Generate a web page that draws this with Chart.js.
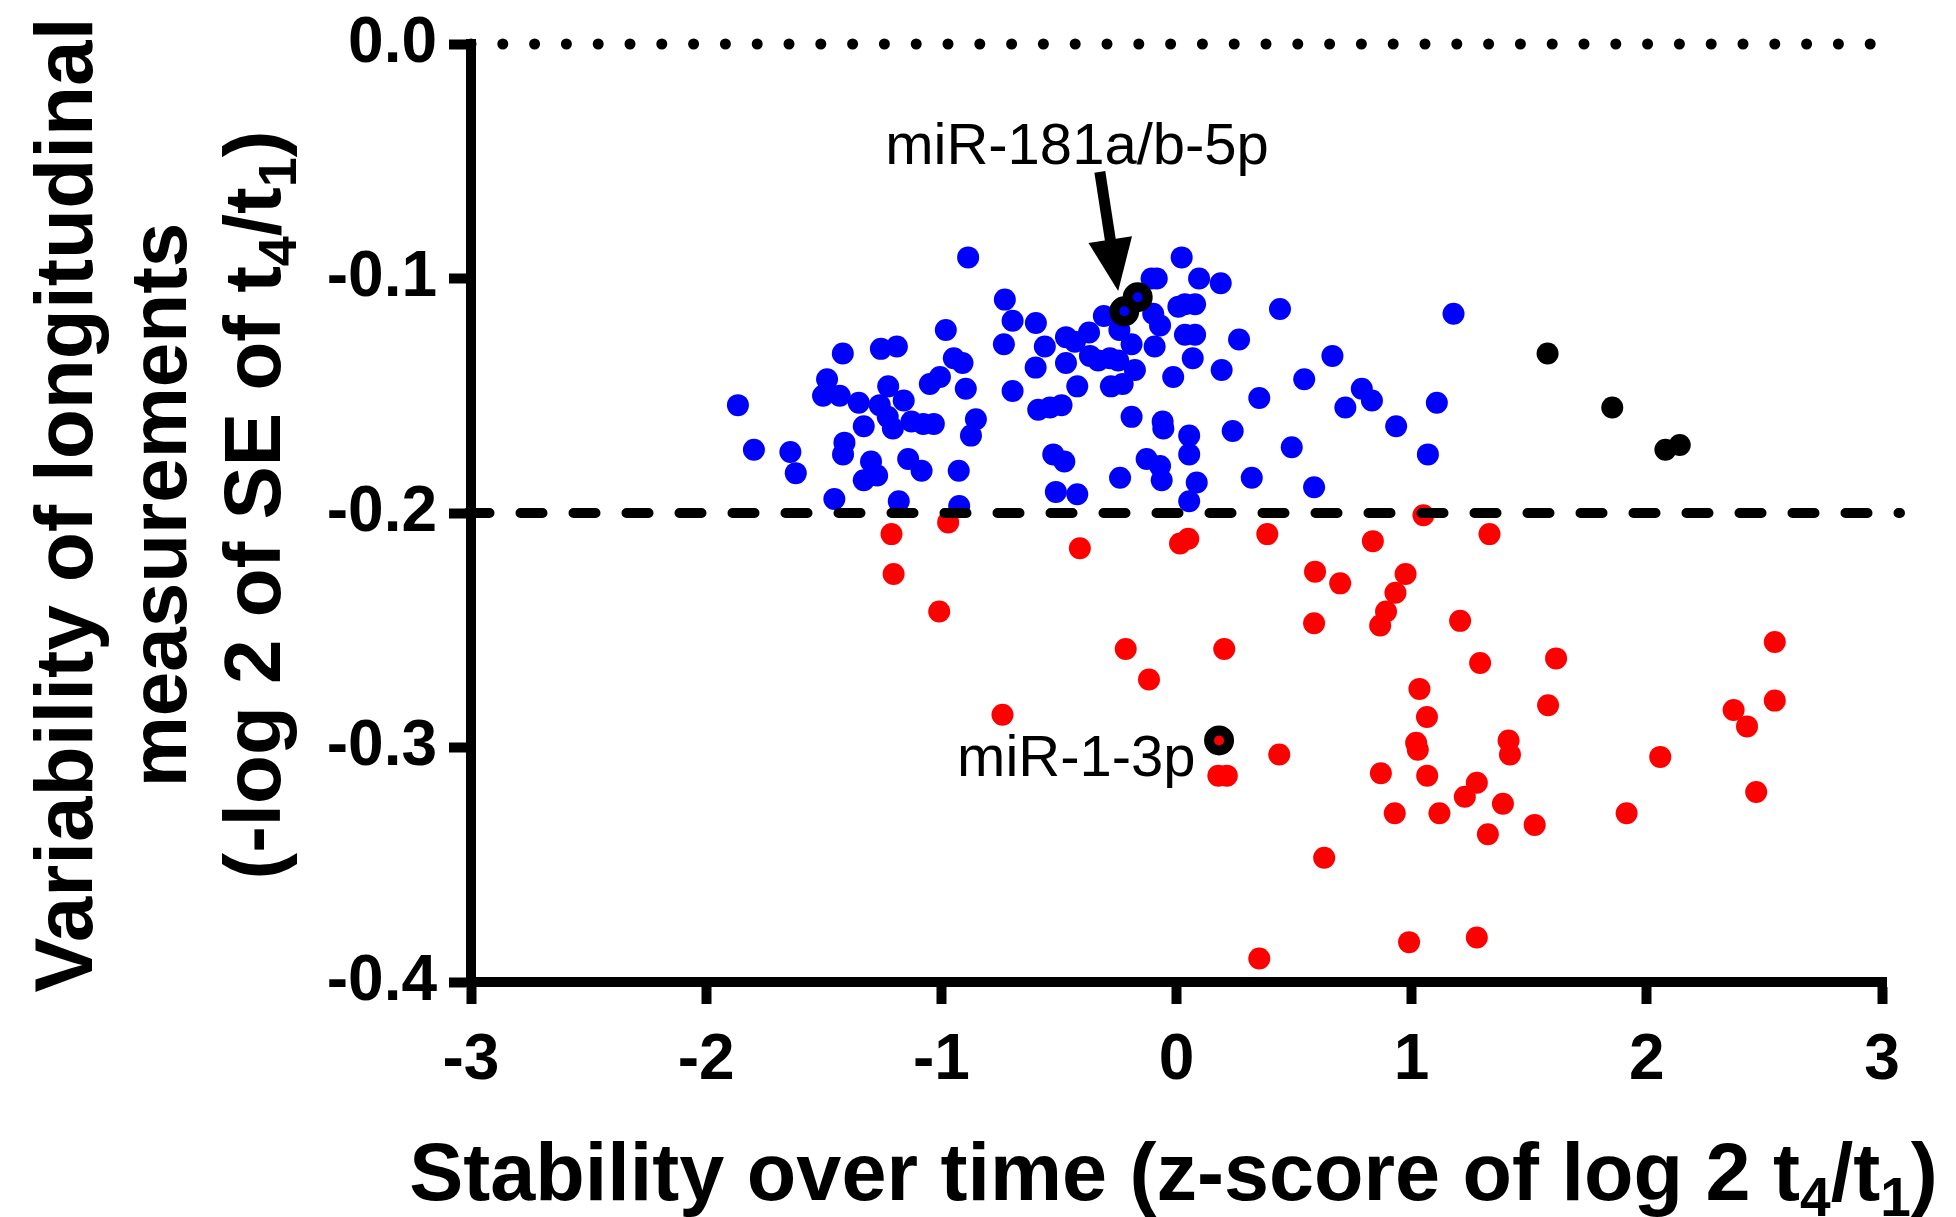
<!DOCTYPE html>
<html>
<head>
<meta charset="utf-8">
<script src="https://cdn.jsdelivr.net/npm/chart.js@4.4.1/dist/chart.umd.min.js"></script>
<style>
  html, body { margin: 0; padding: 0; background: #fff; }
  canvas { display: block; }
</style>
</head>
<body>
<canvas id="scatterChart" width="1956" height="1217" style="width:1956px;height:1217px"></canvas>
<script>
const FONT = "'Liberation Sans', Arial, Helvetica, sans-serif";

// low variability miRNAs (above the -0.2 cut-off)
const stableX = [-1.419, -1.257, -1.189, -1.486, -1.503, -1.432, -1.351, -1.262, -1.228, -1.226,
  -1.206, -1.865, -1.330, -1.412, -1.418, -1.797, -1.642, -1.619, -1.299, -1.273,
  -1.330, -1.455, -1.181, -0.886, -0.730, -0.697, -0.734, -0.598, -0.560, -0.599,
  -0.697, -0.470, -0.432, -0.372, -0.470, -0.368, -0.333, -0.283, -0.248, -0.422,
  -0.279, -0.229, -0.177, -0.588, -0.538, -0.489, -0.309, -0.243, -0.191, -0.106,
  0.022, 0.096, 0.188, -0.099, -0.070, -0.093, 0.008, 0.079, 0.036, 0.079,
  0.069, -0.014, 0.192, 0.266, 0.440, 0.352, -0.191, -0.059, -0.056, 0.054,
  0.054, 0.239, 0.490, -0.524, -0.477, -0.127, -0.070, -0.063, -0.240, 0.086,
  0.054, 0.320, -0.513, -0.422, -0.981, -0.947, -0.910, -0.896, -1.006, -1.049,
  -1.160, -1.127, -1.077, -1.032, -0.853, -0.874, -1.141, -1.084, -0.926, -0.924,
  1.178, 0.663, 0.543, 0.788, 0.831, 0.718, 0.934, 1.107, 1.069, 0.585,
  0.036, -0.084];
const stableY = [-0.132, -0.130, -0.129, -0.143, -0.150, -0.150, -0.153, -0.154, -0.159, -0.146,
  -0.164, -0.154, -0.163, -0.170, -0.175, -0.173, -0.174, -0.183, -0.178, -0.184,
  -0.186, -0.194, -0.195, -0.091, -0.109, -0.118, -0.128, -0.119, -0.129, -0.138,
  -0.148, -0.125, -0.127, -0.123, -0.136, -0.133, -0.135, -0.134, -0.135, -0.146,
  -0.146, -0.145, -0.139, -0.156, -0.155, -0.154, -0.116, -0.122, -0.128, -0.100,
  -0.091, -0.100, -0.102, -0.115, -0.120, -0.129, -0.112, -0.111, -0.124, -0.124,
  -0.134, -0.142, -0.139, -0.126, -0.113, -0.151, -0.159, -0.161, -0.164, -0.167,
  -0.175, -0.165, -0.172, -0.175, -0.178, -0.177, -0.180, -0.186, -0.185, -0.187,
  -0.195, -0.185, -0.191, -0.192, -0.122, -0.134, -0.136, -0.147, -0.142, -0.145,
  -0.152, -0.161, -0.162, -0.162, -0.160, -0.167, -0.177, -0.182, -0.182, -0.197,
  -0.115, -0.133, -0.143, -0.147, -0.152, -0.155, -0.163, -0.153, -0.175, -0.189,
  -0.111, -0.100];

// high variability miRNAs (below the cut-off)
const variableX = [-1.212, -1.203, -0.971, -1.009, -0.411, 0.015, 0.050, 0.386, 1.050, 1.331,
  0.835, 0.589, 0.696, 0.974, 0.931, 0.891, 0.866, 0.585, 1.206, -0.216,
  0.203, -0.117, -0.740, 0.437, 0.178, 0.214, 0.628, 0.352, 1.291, 1.614,
  1.033, 1.065, 1.019, 1.026, 1.580, 1.412, 1.418, 0.869, 1.066, 1.277,
  1.226, 1.388, 0.928, 1.118, 1.324, 1.523, 1.914, 2.057, 2.544, 2.544,
  2.369, 2.426, 2.465, 0.989, 1.277];
const variableY = [-0.209, -0.226, -0.204, -0.242, -0.215, -0.213, -0.211, -0.209, -0.201, -0.209,
  -0.212, -0.225, -0.230, -0.226, -0.234, -0.242, -0.248, -0.247, -0.246, -0.258,
  -0.258, -0.271, -0.286, -0.303, -0.312, -0.312, -0.347, -0.390, -0.264, -0.262,
  -0.275, -0.287, -0.298, -0.301, -0.282, -0.297, -0.303, -0.311, -0.312, -0.315,
  -0.321, -0.324, -0.328, -0.328, -0.337, -0.333, -0.328, -0.304, -0.255, -0.280,
  -0.284, -0.291, -0.319, -0.383, -0.381];

// drifting miRNAs
const driftX = [1.578, 1.853, 2.079, 2.140];
const driftY = [-0.132, -0.155, -0.173, -0.171];

// highlighted miRNAs
const highlightX = [-0.222, -0.165, 0.181];
const highlightY = [-0.114, -0.108, -0.297];
const highlightGroup = ['stable', 'stable', 'variable'];

const xTickValues = [-3, -2, -1, 0, 1, 2, 3];
const xTickLabels = ['-3', '-2', '-1', '0', '1', '2', '3'];
const yTickValues = [-0.4, -0.3, -0.2, -0.1, 0];
const yTickLabels = ['-0.4', '-0.3', '-0.2', '-0.1', '0.0'];

const dottedLineY = 0;
const cutoffY = -0.2;

const labelText = ['miR-181a/b-5p', 'miR-1-3p'];
const labelX = [-0.423, 0.081];
const labelY = [-0.0513, -0.312];
const arrowFrom = [-0.326, -0.0545];
const arrowTo = [-0.248, -0.1053];

const groupColor = { stable: '#0000ff', variable: '#ff0000', drift: '#000000' };

function toPoints(xs, ys) {
    return xs.map((x, i) => ({ x, y: ys[i] }));
}

function drawRich(ctx, parts, x, y, size, weight) {
    const subSize = Math.round(size * 0.68);
    const fontFor = sub => `${weight} ${sub ? subSize : size}px ${FONT}`;
    let w = 0;
    parts.forEach(([t, sub]) => { ctx.font = fontFor(sub); w += ctx.measureText(t).width; });
    let cx = x - w / 2;
    ctx.textAlign = 'left';
    ctx.textBaseline = 'alphabetic';
    parts.forEach(([t, sub]) => {
        ctx.font = fontFor(sub);
        ctx.fillText(t, cx, sub ? y + size * 0.2 : y);
        cx += ctx.measureText(t).width;
    });
}

const overlay = {
    id: 'overlay',
    afterDatasetsDraw(chart) {
        const { ctx, chartArea: a, scales: { x, y } } = chart;
        ctx.save();
        ctx.fillStyle = '#000';
        // square off the axis corners
        ctx.fillRect(a.left - 5, a.top - 5, 10, 10);
        ctx.fillRect(a.left - 5, a.bottom - 5, 10, 10);
        ctx.fillRect(a.right - 5, a.bottom - 5, 10, 10);

        ctx.strokeStyle = '#000';
        ctx.lineCap = 'round';
        let py = y.getPixelForValue(dottedLineY);
        ctx.lineWidth = 11;
        ctx.setLineDash([0, 31.8]);
        ctx.beginPath();
        ctx.moveTo(a.left, py);
        ctx.lineTo(a.right, py);
        ctx.stroke();

        py = y.getPixelForValue(cutoffY);
        ctx.lineWidth = 10;
        ctx.setLineDash([22, 31]);
        ctx.beginPath();
        ctx.moveTo(a.left - 3.5, py);
        ctx.lineTo(a.right + 18, py);
        ctx.stroke();
        ctx.restore();
    },
    afterDraw(chart) {
        const { ctx, chartArea: a, scales: { x, y } } = chart;
        ctx.save();
        ctx.fillStyle = '#000';
        ctx.strokeStyle = '#000';

        // arrow
        const x1 = x.getPixelForValue(arrowFrom[0]), y1 = y.getPixelForValue(arrowFrom[1]);
        const x2 = x.getPixelForValue(arrowTo[0]), y2 = y.getPixelForValue(arrowTo[1]);
        const ang = Math.atan2(y2 - y1, x2 - x1);
        const headLen = 52, headW = 44;
        const bx = x2 - headLen * Math.cos(ang), by = y2 - headLen * Math.sin(ang);
        ctx.lineWidth = 11;
        ctx.beginPath();
        ctx.moveTo(x1, y1);
        ctx.lineTo(bx + 2 * Math.cos(ang), by + 2 * Math.sin(ang));
        ctx.stroke();
        ctx.beginPath();
        ctx.moveTo(x2, y2);
        ctx.lineTo(bx + headW / 2 * Math.sin(ang), by - headW / 2 * Math.cos(ang));
        ctx.lineTo(bx - headW / 2 * Math.sin(ang), by + headW / 2 * Math.cos(ang));
        ctx.closePath();
        ctx.fill();

        // point labels
        ctx.font = `58px ${FONT}`;
        ctx.textBaseline = 'alphabetic';
        ctx.textAlign = 'center';
        ctx.fillText(labelText[0], x.getPixelForValue(labelX[0]), y.getPixelForValue(labelY[0]));
        ctx.textAlign = 'right';
        ctx.fillText(labelText[1], x.getPixelForValue(labelX[1]), y.getPixelForValue(labelY[1]));

        // axis titles
        drawRich(ctx, [['Stability over time (z-score of log 2 t', false], ['4', true], ['/t', false], ['1', true], [')', false]],
            (a.left + a.right) / 2 - 3, 1200, 81, 'bold');

        const yLines = [
            [['Variability of longitudinal', false]],
            [['measurements', false]],
            [['(-log 2 of SE of t', false], ['4', true], ['/t', false], ['1', true], [')', false]]
        ];
        const sizes = [82, 80, 80];
        const baselines = [92, 186, 280];
        const cy = (a.top + a.bottom) / 2 - 8;
        yLines.forEach((parts, i) => {
            ctx.save();
            ctx.translate(baselines[i], cy);
            ctx.rotate(-Math.PI / 2);
            drawRich(ctx, parts, 0, 0, sizes[i], 'bold');
            ctx.restore();
        });
        ctx.restore();
    }
};

const chart = new Chart(document.getElementById('scatterChart').getContext('2d'), {
    type: 'scatter',
    data: {
        datasets: [
            {
                label: 'highlighted',
                data: toPoints(highlightX, highlightY),
                backgroundColor: highlightGroup.map(g => groupColor[g]),
                borderColor: '#000',
                borderWidth: 10,
                pointRadius: 10
            },
            {
                label: 'drift',
                data: toPoints(driftX, driftY),
                backgroundColor: groupColor.drift,
                borderWidth: 0,
                pointRadius: 11
            },
            {
                label: 'variable',
                data: toPoints(variableX, variableY),
                backgroundColor: groupColor.variable,
                borderWidth: 0,
                pointRadius: 11
            },
            {
                label: 'stable',
                data: toPoints(stableX, stableY),
                backgroundColor: groupColor.stable,
                borderWidth: 0,
                pointRadius: 11
            }
        ]
    },
    options: {
        responsive: false,
        animation: false,
        devicePixelRatio: 1,
        layout: { padding: { left: 0, top: 39, right: 74, bottom: 0 } },
        plugins: { legend: { display: false }, tooltip: { enabled: false } },
        scales: {
            x: {
                type: 'linear',
                min: -3,
                max: 3,
                afterFit: s => { s.height = 235; },
                afterBuildTicks: s => { s.ticks = xTickValues.map(v => ({ value: v })); },
                ticks: {
                    callback: (v, i) => xTickLabels[i],
                    color: '#000',
                    font: { family: FONT, size: 64, weight: 'bold', lineHeight: 1.2 },
                    padding: 19,
                    maxRotation: 0,
                    autoSkip: false
                },
                grid: { drawOnChartArea: false, drawTicks: true, tickLength: 22, tickWidth: 10, tickColor: '#000' },
                border: { display: true, color: '#000', width: 10 }
            },
            y: {
                type: 'linear',
                min: -0.4,
                max: 0,
                afterFit: s => { s.width = 471; },
                afterBuildTicks: s => { s.ticks = yTickValues.map(v => ({ value: v })); },
                ticks: {
                    callback: (v, i) => yTickLabels[i],
                    color: '#000',
                    font: { family: FONT, size: 64, weight: 'bold', lineHeight: 1 },
                    padding: 12,
                    autoSkip: false
                },
                grid: { drawOnChartArea: false, drawTicks: true, tickLength: 22, tickWidth: 10, tickColor: '#000' },
                border: { display: true, color: '#000', width: 10 }
            }
        }
    },
    plugins: [overlay]
});
</script>
</body>
</html>
